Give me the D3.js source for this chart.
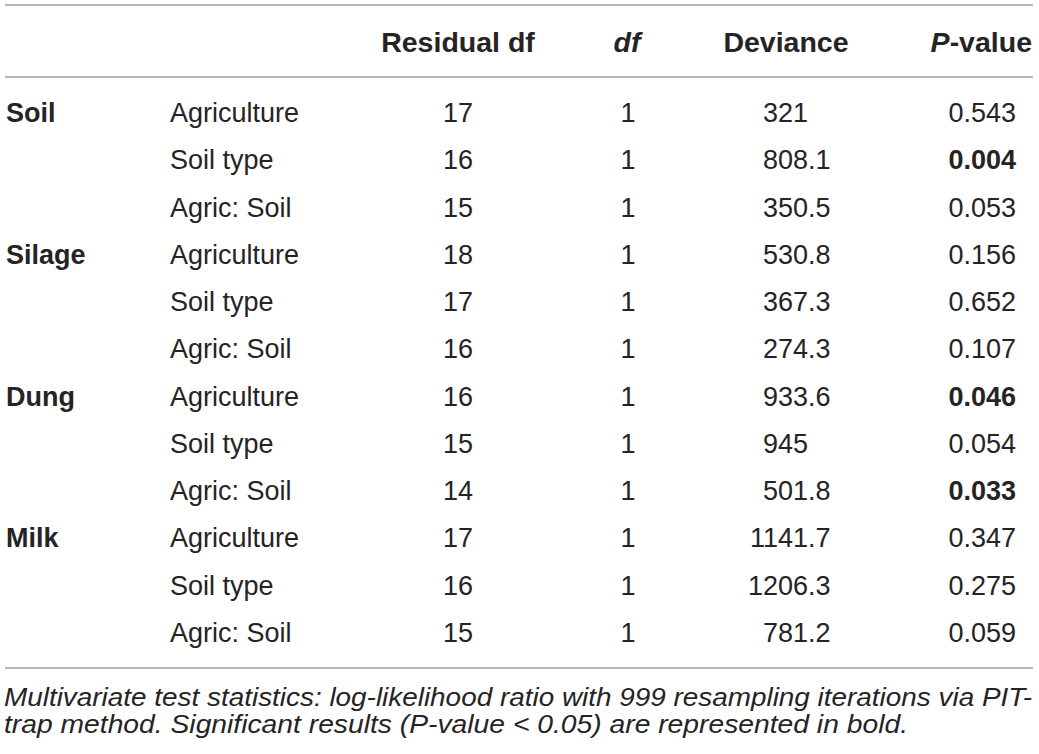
<!DOCTYPE html>
<html>
<head>
<meta charset="utf-8">
<script src="https://cdn.jsdelivr.net/npm/d3@7"></script>
<style>
  body { margin: 0; background: #fff; }
  text { font-family: "Liberation Sans", Arial, Helvetica, sans-serif; fill: #262324; }
</style>
</head>
<body>
<svg id="table"></svg>
<script>
// table data
const groups = ["Soil", "Silage", "Dung", "Milk"];
const terms = ["Agriculture", "Soil type", "Agric: Soil"];
const residualDf = [17, 16, 15, 18, 17, 16, 16, 15, 14, 17, 16, 15];
const dfValues = [1, 1, 1, 1, 1, 1, 1, 1, 1, 1, 1, 1];
const deviance = ["321", "808.1", "350.5", "530.8", "367.3", "274.3", "933.6", "945", "501.8", "1141.7", "1206.3", "781.2"];
const pValues = ["0.543", "0.004", "0.053", "0.156", "0.652", "0.107", "0.046", "0.054", "0.033", "0.347", "0.275", "0.059"];
const captionLines = [
  "Multivariate test statistics: log-likelihood ratio with 999 resampling iterations via PIT-",
  "trap method. Significant results (P-value < 0.05) are represented in bold."
];

const width = 1039;
const height = 754;

const svg = d3.select("svg#table").attr("width", width).attr("height", height);

// rows built from the arrays
const rows = residualDf.map((r, i) => ({
  group: i % 3 === 0 ? groups[i / 3] : "",
  term: terms[i % 3],
  resid: r,
  df: dfValues[i],
  dev: deviance[i],
  p: pValues[i]
}));

// row baselines
const y = d3.scalePoint()
  .domain(d3.range(rows.length))
  .range([122, 642]);

// rules
const rules = [5, 77, 668];
svg.selectAll("line.rule").data(rules).enter().append("line")
  .attr("class", "rule")
  .attr("x1", 5).attr("x2", 1033)
  .attr("y1", d => d).attr("y2", d => d)
  .attr("stroke", "#9d9d9d")
  .attr("stroke-width", 1.6);

// header
const header = svg.append("g").style("font-weight", "bold").style("font-size", "28.5px");
header.append("text").attr("x", 458).attr("y", 52).attr("text-anchor", "middle").text("Residual df");
header.append("text").attr("x", 627).attr("y", 52).attr("text-anchor", "middle")
  .style("font-style", "italic").text("df");
header.append("text").attr("x", 786).attr("y", 52).attr("text-anchor", "middle").text("Deviance");
const ph = header.append("text").attr("x", 1032).attr("y", 52).attr("text-anchor", "end");
ph.append("tspan").style("font-style", "italic").text("P");
ph.append("tspan").text("-value");

// body rows
const body = svg.append("g").style("font-size", "27px");
const rowG = body.selectAll("g.row").data(rows).enter().append("g")
  .attr("class", "row")
  .attr("transform", (d, i) => "translate(0," + y(i) + ")");

rowG.append("text").attr("x", 6).style("font-weight", "bold").text(d => d.group);
rowG.append("text").attr("x", 170).text(d => d.term);
rowG.append("text").attr("x", 458).attr("text-anchor", "middle").text(d => d.resid);
rowG.append("text").attr("x", 628).attr("text-anchor", "middle").text(d => d.df);

// deviance aligned on the decimal point
rowG.append("text").attr("x", 808).attr("text-anchor", "end").text(d => d.dev.split(".")[0]);
rowG.append("text").attr("x", 808)
  .text(d => d.dev.indexOf(".") >= 0 ? "." + d.dev.split(".")[1] : "");

rowG.append("text").attr("x", 1016).attr("text-anchor", "end")
  .style("font-weight", d => +d.p < 0.05 ? "bold" : "normal")
  .text(d => d.p);

// caption
svg.selectAll("text.caption").data(captionLines).enter().append("text")
  .attr("class", "caption")
  .attr("x", 4)
  .attr("y", (d, i) => 706 + i * 26.5)
  .attr("textLength", (d, i) => i === 0 ? 1028 : 904)
  .attr("lengthAdjust", "spacingAndGlyphs")
  .style("font-size", "25px")
  .style("font-style", "italic")
  .text(d => d);
</script>
</body>
</html>
